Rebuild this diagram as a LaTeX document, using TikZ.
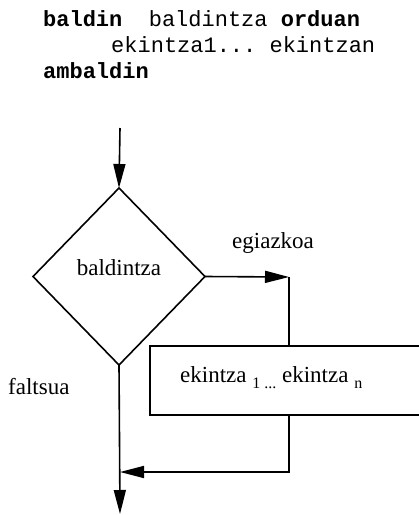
\documentclass[tikz,border=0pt]{standalone}
\usepackage{fontspec}
\setmainfont{Liberation Serif}
\setmonofont{Liberation Mono}
\usetikzlibrary{arrows.meta,shapes.geometric}
\tikzset{
  ln/.style={line width=1.6pt},
  arr/.style={ln,-{Triangle[length=24pt,width=12pt]}},
  code/.style={anchor=base west,inner sep=0pt,font=\fontsize{22}{22}\selectfont\ttfamily},
  lbl/.style={anchor=base west,inner sep=0pt,font=\fontsize{23}{23}\selectfont},
  dec/.style={diamond,draw,ln,minimum width=172pt,minimum height=177pt,inner sep=0pt,outer sep=0pt,
    font=\fontsize{23}{23}\selectfont,text height=16pt,text depth=19pt},
}
\newcommand{\subtx}[1]{\raisebox{-6pt}{\fontsize{16}{16}\selectfont #1}}
\begin{document}
\begin{tikzpicture}[x=1pt,y=-1pt]
\useasboundingbox (0,0) rectangle (419,515);
% code text
\node[code] (l1) at (43,26) {\textbf{baldin}~~baldintza \textbf{orduan}};
\node[code] (l2) at (111,52) {ekintza1... ekintzan};
\node[code] (l3) at (43,78) {\textbf{ambaldin}};
% flowchart
\coordinate (top) at (120,128);
\node[dec] (d) at (119,276.5) {baldintza};
\node[minimum width=269pt,minimum height=69pt,inner sep=0pt,outer sep=0pt] (box) at (284.5,380.5) {};
\node[lbl] (bt) at (180,382) {ekintza \subtx{1 ...} ekintza \subtx{n}};
\coordinate (c1) at (289,277);
\coordinate (c2) at (289,472);
\coordinate (j) at (120,472);
\coordinate (bot) at (120,514);
\draw[ln] (box.north east) -- (box.north west) -- (box.south west) -- (box.south east);
\draw[arr] (top) -- (d.north);
\draw[arr] (d.east) -- (c1);
\draw[ln] (c1) -- (c1 |- box.north);
\draw[arr] (box.south -| c2) -- (c2) -- (j);
\draw[arr] (d.south) -- (bot);
\node[lbl] (yes) at (232,248) {egiazkoa};
\node[lbl] (no) at (8,394) {faltsua};
\end{tikzpicture}
\end{document}
